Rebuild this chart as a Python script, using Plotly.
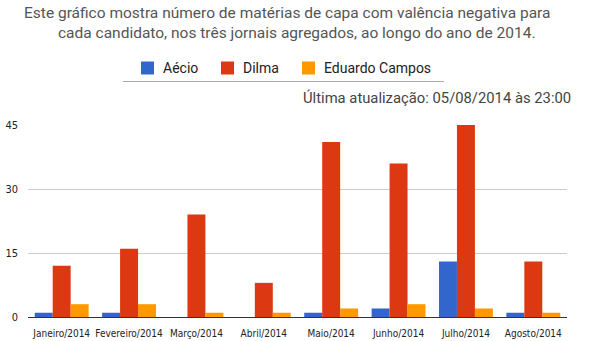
import plotly.graph_objects as go

months = ["Janeiro/2014", "Fevereiro/2014", "Março/2014", "Abril/2014",
          "Maio/2014", "Junho/2014", "Julho/2014", "Agosto/2014"]
aecio = [1, 1, 0, 0, 1, 2, 13, 1]
dilma = [12, 16, 24, 8, 41, 36, 45, 13]
eduardo = [3, 3, 1, 1, 2, 3, 2, 1]
y_ticks = [0, 15, 30, 45]

series = [("Aécio", aecio, "#3366CC"),
          ("Dilma", dilma, "#DC3912"),
          ("Eduardo Campos", eduardo, "#FF9900")]

W, H = 600, 341
L, R, T, B = 28, 33, 125, 24
PW, PH = W - L - R, H - T - B


def px(x):
    return (x - L) / PW


def py(y):
    return (H - B - y) / PH


fig = go.Figure()
for name, vals, color in series:
    fig.add_trace(go.Bar(x=months, y=vals, name=name, showlegend=False,
                         marker=dict(color=color, line=dict(width=0))))

narrow = "Liberation Sans Narrow, DejaVu Sans Condensed, Arial, sans-serif"

# legend row: swatch + label per series, above a thin separator
legend_left = [141, 221, 302]
shapes = []
annotations = []
for (name, _, color), x0 in zip(series, legend_left):
    shapes.append(dict(type="rect", xref="paper", yref="paper",
                       x0=px(x0), x1=px(x0 + 13), y0=py(74.5), y1=py(61.5),
                       fillcolor=color, line=dict(width=0)))
    annotations.append(dict(text=name, xref="paper", yref="paper",
                            x=px(x0 + 20), y=py(68), xanchor="left", yanchor="middle",
                            showarrow=False, font=dict(size=14, color="#222222")))
shapes.append(dict(type="line", xref="paper", yref="paper",
                   x0=px(123), x1=px(444), y0=py(81.5), y1=py(81.5),
                   line=dict(color="#AAAAAA", width=1)))

annotations += [
    dict(text="Este gráfico mostra número de matérias de capa com valência negativa para",
         xref="paper", yref="paper", x=px(286.5), y=py(13), xanchor="center", yanchor="middle",
         showarrow=False, font=dict(size=15.5, color="#555555")),
    dict(text="cada candidato, nos três jornais agregados, ao longo do ano de 2014.",
         xref="paper", yref="paper", x=px(296.5), y=py(33), xanchor="center", yanchor="middle",
         showarrow=False, font=dict(size=15.5, color="#555555")),
    dict(text="Última atualização: 05/08/2014 às 23:00",
         xref="paper", yref="paper", x=px(573), y=py(98), xanchor="right", yanchor="middle",
         showarrow=False, font=dict(size=14.8, color="#444444")),
]

fig.update_layout(
    width=W, height=H,
    margin=dict(l=L, r=R, t=T, b=B, pad=0),
    paper_bgcolor="white", plot_bgcolor="white",
    barmode="group", bargap=0.2, bargroupgap=0,
    font=dict(family="Roboto, Arial, sans-serif", color="#222"),
    showlegend=False,
    xaxis=dict(showgrid=False, showline=False, ticks="", automargin=False,
               tickangle=0, ticklabelstandoff=9,
               tickfont=dict(family=narrow, size=10, color="#222")),
    yaxis=dict(range=[0, 45], tickvals=y_ticks, showgrid=True, gridcolor="#CCCCCC",
               gridwidth=1, zeroline=True, zerolinecolor="#333333", zerolinewidth=1,
               showline=False, ticks="", ticklabelstandoff=9, automargin=False,
               tickfont=dict(family=narrow, size=11, color="#222")),
    shapes=shapes,
    annotations=annotations,
)

fig.write_html("out.html")
